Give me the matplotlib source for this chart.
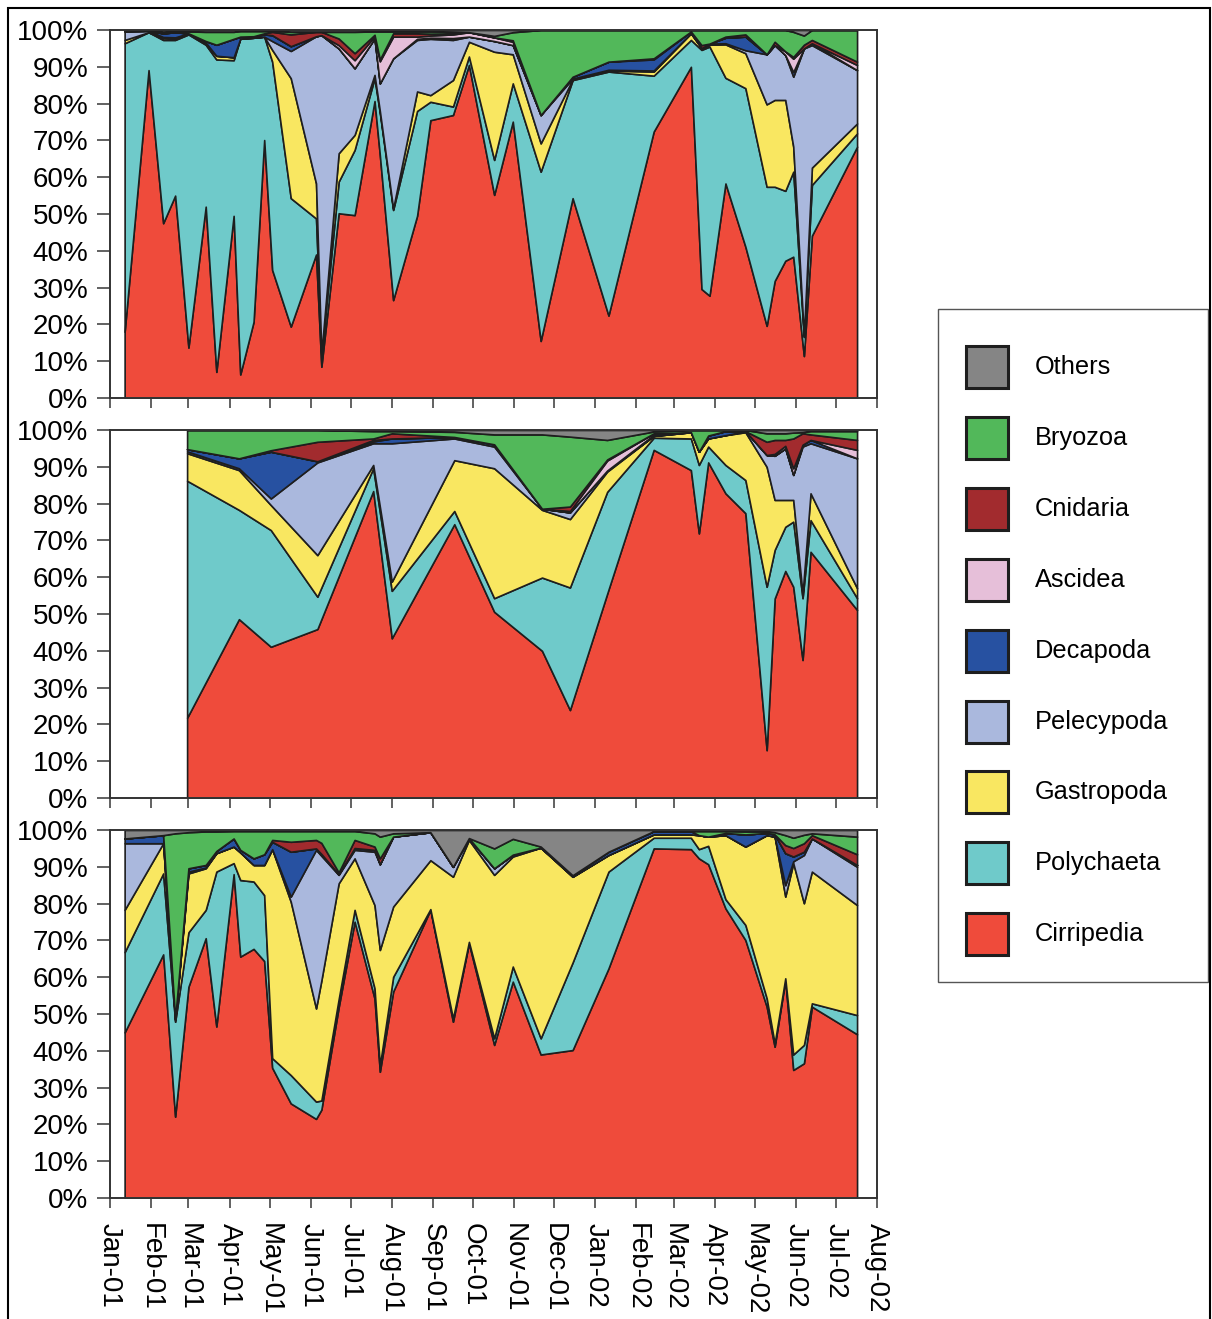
import matplotlib
matplotlib.use('Agg')
import matplotlib.pyplot as plt
import matplotlib.dates as mdates
from matplotlib.patches import Rectangle
import numpy as np
import pandas as pd

plt.rcParams['font.family'] = ['Liberation Sans', 'DejaVu Sans']

##########################       data (percent composition)       ##########################
taxa = ['Cirripedia', 'Polychaeta', 'Gastropoda', 'Pelecypoda', 'Decapoda',
        'Ascidea', 'Cnidaria', 'Bryozoa', 'Others']
colors = ['#ef4b3b', '#6fcaca', '#f9e761', '#aab8dd', '#2751a1',
          '#e6bfd9', '#a22b2e', '#52b85a', '#858585']

# panel 1
dates_a = ['2001-01-12', '2001-01-30', '2001-02-10', '2001-02-19', '2001-03-01', '2001-03-14',
           '2001-03-22', '2001-04-04', '2001-04-09', '2001-04-19', '2001-04-27', '2001-05-03',
           '2001-05-17', '2001-06-05', '2001-06-09', '2001-06-22', '2001-07-04', '2001-07-19',
           '2001-07-23', '2001-08-02', '2001-08-20', '2001-08-30', '2001-09-16', '2001-09-28',
           '2001-10-17', '2001-10-31', '2001-11-21', '2001-12-15', '2002-01-11', '2002-02-14',
           '2002-03-14', '2002-03-22', '2002-03-28', '2002-04-09', '2002-04-24', '2002-05-10',
           '2002-05-16', '2002-05-24', '2002-05-30', '2002-06-07', '2002-06-13', '2002-07-17']
cirr_a = [18.0, 89.1, 47.5, 55.0, 13.7, 52.0, 7.1, 49.5, 6.4, 20.7, 70.1, 34.8, 19.4, 39.0,
          8.5, 50.2, 49.7, 80.7, 66.0, 26.6, 49.5, 75.5, 76.9, 90.5, 55.2, 75.1, 15.5, 54.3,
          22.4, 72.4, 90.0, 29.6, 27.8, 58.3, 41.1, 19.6, 31.8, 37.3, 38.4, 11.4, 44.1, 68.3]
poly_a = [78.4, 10.3, 49.8, 42.3, 85.1, 44.0, 84.9, 42.3, 91.3, 77.2, 28.1, 56.6, 34.9, 9.8,
          3.2, 8.6, 17.7, 6.2, 11.5, 24.5, 28.5, 5.0, 2.3, 2.3, 9.5, 10.4, 46.0, 32.1,
          66.3, 15.2, 7.3, 65.0, 67.7, 28.7, 43.1, 37.8, 25.6, 19.0, 23.1, 5.2, 13.8, 3.6]
gast_a = [0.9, 0, 0.5, 0.4, 0.3, 0.4, 1.0, 0.8, 0, 0, 0, 3.2, 32.6, 9.5,
          0.3, 7.7, 4.1, 0.9, 0.5, 0.4, 5.3, 1.8, 7.2, 4.0, 29.4, 7.9, 7.7, 0.2,
          0.3, 1.1, 1.8, 0.5, 0.5, 9.1, 9.5, 22.4, 23.6, 24.7, 6.8, 0.3, 4.7, 2.7]
pele_a = [2.4, 0.4, 0.3, 0.3, 0, 0.2, 0, 0, 0, 0, 0, 2.4, 7.4, 40.0,
          86.6, 28.5, 18.1, 9.9, 7.5, 40.8, 14.0, 15.3, 10.9, 1.4, 2.9, 2.5, 7.7, 0.2,
          0.2, 0.3, 0, 0, 0.3, 0.3, 0.8, 13.6, 14.9, 12.2, 19.0, 78.1, 33.3, 14.5]
deca_a = [0, 0, 1.0, 1.4, 0, 0.4, 3.0, 5.0, 0.5, 0.4, 0.6, 1.6, 1.3, 0,
          0, 0, 0, 0, 0, 0, 0.3, 0.3, 0.5, 0, 0, 0, 0, 0.5,
          2.2, 3.0, 0.5, 0, 0, 1.5, 3.7, 0, 0, 0, 1.3, 0, 0.5, 0]
asci_a = [0, 0, 0, 0, 0, 0, 0, 0, 0, 0, 0, 0, 0, 0,
          0, 0.9, 2.2, 0.6, 6.0, 5.9, 0.6, 0.6, 1.0, 1.2, 1.0, 0.9, 0, 0,
          0, 0.3, 0, 0, 0, 0, 0, 0, 0, 1.0, 3.6, 0, 0, 1.4]
cnid_a = [0, 0, 0, 0, 0, 0, 0, 0, 0, 0, 0.3, 0.9, 3.2, 1.2,
          0.9, 1.8, 1.9, 0.4, 0.5, 0.9, 0.9, 0.5, 0.3, 0, 0, 0.4, 0, 0,
          0, 0, 0, 0.8, 0, 0.3, 0.6, 0, 0.9, 0, 0.5, 1.0, 0.9, 0.9]
bryo_a = [0, 0.2, 0.4, 0.3, 0.5, 2.5, 3.5, 1.9, 1.5, 1.4, 0.6, 0.3, 0.7, 0,
          0, 1.8, 5.8, 0.9, 7.6, 0.5, 0.5, 0.6, 0.4, 0, 0.4, 2.2, 23.1, 12.7,
          8.6, 7.7, 0.4, 4.1, 3.7, 1.8, 1.2, 6.6, 3.2, 5.8, 6.8, 2.5, 2.7, 8.6]
oth_a = [0.3, 0, 0.5, 0.3, 0.4, 0.5, 0.5, 0.5, 0.3, 0.3, 0.3, 0.2, 0.5, 0.5,
         0.5, 0.5, 0.5, 0.4, 0.4, 0.4, 0.4, 0.4, 0.5, 0.6, 1.6, 0.6, 0, 0,
         0, 0, 0, 0, 0, 0, 0, 0, 0, 0, 0.5, 1.5, 0, 0]

# panel 2
dates_b = ['2001-02-28', '2001-04-08', '2001-05-02', '2001-06-06', '2001-07-18', '2001-08-01',
           '2001-09-17', '2001-10-17', '2001-11-22', '2001-12-13', '2002-01-10', '2002-02-14',
           '2002-03-14', '2002-03-20', '2002-03-27', '2002-04-09', '2002-04-24', '2002-05-10',
           '2002-05-16', '2002-05-24', '2002-05-30', '2002-06-06', '2002-06-12', '2002-07-17']
cirr_b = [21.8, 48.6, 41.1, 45.9, 83.4, 43.4, 74.4, 50.6, 40.0, 23.9, 55.5, 94.6,
          89.1, 71.9, 91.2, 82.8, 77.4, 13.0, 54.2, 61.7, 57.4, 37.5, 66.9, 51.1]
poly_b = [64.4, 29.7, 31.7, 8.8, 6.2, 12.9, 3.6, 3.7, 19.9, 33.3, 27.7, 3.3,
          8.6, 18.6, 4.3, 7.7, 9.0, 44.4, 13.2, 12.0, 17.7, 16.8, 8.6, 3.2]
gast_b = [7.5, 10.8, 6.8, 11.3, 0.9, 2.5, 13.8, 35.3, 18.4, 18.6, 5.5, 0.5,
          1.7, 3.6, 2.2, 8.1, 13.0, 32.6, 13.6, 7.3, 5.9, 1.2, 7.3, 2.7]
pele_b = [0.5, 0.5, 1.8, 25.2, 5.9, 37.6, 5.9, 5.9, 0.3, 1.8, 0.3, 0,
          0, 0, 0, 0, 0.3, 3.2, 12.0, 14.0, 6.8, 40.0, 13.6, 35.3]
deca_b = [0.6, 2.7, 12.7, 0.3, 0.5, 1.3, 0.4, 0.6, 0, 0, 0, 0.3,
          0, 0, 0.8, 1.1, 0, 0, 0, 0, 0, 0.5, 0.9, 0]
asci_b = [0, 0, 0, 0, 0.4, 0, 0, 0, 0, 0.4, 2.7, 0.4,
          0, 0, 0, 0, 0, 0, 0.5, 0.7, 1.8, 0, 0, 2.3]
cnid_b = [0, 0, 0.4, 5.3, 0.4, 1.4, 0, 0, 0, 1.2, 0.3, 0,
          0, 0, 0, 0, 0, 3.6, 3.8, 1.6, 8.1, 3.1, 1.5, 2.7]
bryo_b = [5.2, 7.7, 5.5, 3.2, 2.0, 0.6, 1.4, 2.7, 20.2, 19.0, 5.3, 0.5,
          0.6, 5.9, 1.5, 0.3, 0.3, 2.3, 1.8, 1.8, 1.6, 0.3, 0.9, 2.4]
oth_b = [0, 0, 0, 0, 0.3, 0.3, 0.5, 1.2, 1.2, 1.8, 2.7, 0.4,
         0, 0, 0, 0, 0, 0.9, 0.9, 0.9, 0.7, 0.6, 0.3, 0.3]

# panel 3
dates_c = ['2001-01-12', '2001-02-10', '2001-02-19', '2001-03-01', '2001-03-14', '2001-03-22',
           '2001-04-04', '2001-04-09', '2001-04-19', '2001-04-27', '2001-05-03', '2001-05-17',
           '2001-06-05', '2001-06-09', '2001-06-22', '2001-07-04', '2001-07-19', '2001-07-23',
           '2001-08-02', '2001-08-30', '2001-09-16', '2001-09-28', '2001-10-17', '2001-10-31',
           '2001-11-21', '2001-12-15', '2002-01-11', '2002-02-14', '2002-03-14', '2002-03-20',
           '2002-03-27', '2002-04-09', '2002-04-24', '2002-05-10', '2002-05-16', '2002-05-24',
           '2002-05-30', '2002-06-07', '2002-06-13', '2002-07-17']
cirr_c = [45.0, 66.2, 22.1, 57.4, 70.6, 46.6, 88.0, 65.6, 67.7, 64.4,
          35.4, 25.7, 21.5, 24.0, 51.8, 75.1, 54.2, 34.3, 56.1, 78.3,
          47.9, 69.2, 41.6, 58.8, 39.0, 40.2, 62.4, 95.0, 94.8, 92.3,
          90.7, 78.7, 70.1, 52.0, 41.1, 59.2, 34.8, 36.6, 52.0, 44.5]
poly_c = [21.8, 22.0, 25.8, 14.8, 7.7, 42.1, 3.0, 20.8, 18.3, 17.9,
          2.6, 7.7, 4.7, 2.5, 2.2, 3.2, 2.8, 1.7, 4.0, 0.2,
          0.9, 0.4, 1.8, 4.1, 4.4, 23.8, 26.3, 2.9, 3.1, 2.5,
          5.0, 2.5, 4.1, 2.3, 0.9, 0.5, 4.2, 5.0, 0.9, 5.2]
gast_c = [11.5, 8.2, 0.5, 16.0, 11.3, 5.0, 4.5, 7.5, 4.5, 8.2,
          56.8, 47.1, 25.3, 32.6, 31.5, 14.0, 22.6, 31.4, 19.1, 13.3,
          38.5, 27.7, 44.4, 29.9, 51.8, 23.3, 4.5, 0.9, 0.9, 3.8,
          2.5, 17.4, 21.3, 44.3, 56.2, 22.2, 52.0, 38.5, 35.8, 29.9]
pele_c = [18.1, 0, 0.3, 0.5, 0.2, 0, 0, 0, 0, 0,
          0, 1.4, 43.1, 33.9, 2.3, 2.3, 14.5, 23.3, 19.0, 7.6,
          2.7, 0.5, 1.8, 0.5, 0, 0, 0, 0, 0, 0,
          0, 0, 0, 0, 0, 3.1, 0.5, 13.1, 9.0, 10.4]
deca_c = [1.3, 2.2, 0, 0.9, 0.7, 0.6, 2.2, 0.7, 1.8, 2.9,
          2.0, 12.2, 0.4, 0.5, 0.2, 0.5, 0.5, 0, 0, 0,
          0, 0, 0, 0, 0, 0.4, 0.9, 0.9, 0.9, 0,
          0, 0.6, 3.3, 0.6, 0.6, 8.7, 1.3, 0.9, 0, 0.5]
asci_c = [0] * 40
cnid_c = [0, 0, 0, 0, 0, 0, 0, 0, 0, 0,
          0.5, 2.7, 2.3, 3.0, 0.5, 2.2, 0.9, 1.6, 0, 0,
          0, 0, 0, 0, 0, 0, 0, 0, 0, 0,
          0, 0, 0, 0, 0, 2.2, 2.3, 2.3, 0.9, 2.9]
bryo_c = [0, 0, 50.4, 9.8, 9.1, 5.3, 2.0, 5.1, 7.4, 6.3,
          2.4, 2.9, 2.4, 3.2, 11.2, 2.4, 3.6, 5.9, 0.9, 0,
          0, 0, 5.4, 4.3, 0.3, 0, 0, 0, 0, 1.1,
          1.5, 0.5, 0.8, 0.4, 0.6, 2.7, 2.8, 2.3, 0.5, 4.8]
oth_c = [2.3, 1.4, 0.9, 0.6, 0.4, 0.4, 0.3, 0.3, 0.3, 0.3,
         0.3, 0.3, 0.3, 0.3, 0.3, 0.3, 0.9, 1.8, 0.9, 0.6,
         10.0, 2.2, 5.0, 2.4, 4.5, 12.3, 5.9, 0.3, 0.3, 0.3,
         0.3, 0.3, 0.4, 0.4, 0.6, 1.4, 2.1, 1.3, 0.9, 1.8]

panels = [
    (dates_a, [cirr_a, poly_a, gast_a, pele_a, deca_a, asci_a, cnid_a, bryo_a, oth_a]),
    (dates_b, [cirr_b, poly_b, gast_b, pele_b, deca_b, asci_b, cnid_b, bryo_b, oth_b]),
    (dates_c, [cirr_c, poly_c, gast_c, pele_c, deca_c, asci_c, cnid_c, bryo_c, oth_c]),
]

##########################       figure       ##########################
W, H = 1212, 1319
fig = plt.figure(figsize=(W / 100, H / 100), dpi=100)


def box(x0, y0, x1, y1):
    """pixel box (top-left origin) -> figure fraction rect"""
    return [x0 / W, 1 - y1 / H, (x1 - x0) / W, (y1 - y0) / H]


rows = [(30, 398), (430, 798), (830, 1198)]
for i, ((dates, series), (top, bottom)) in enumerate(zip(panels, rows)):
    ax = fig.add_axes(box(110, top, 877, bottom))
    x = pd.to_datetime(dates)
    vals = np.array(series, dtype=float)
    vals = vals / vals.sum(axis=0) * 100  # each sample sums to 100 %
    ax.stackplot(x, *vals, colors=colors, edgecolor='#1e1e1e', linewidth=1.2)

    ax.set_xlim(pd.Timestamp('2001-01-01'), pd.Timestamp('2002-08-01'))
    ax.set_ylim(0, 100)
    ax.set_yticks(range(0, 101, 10))
    ax.set_yticklabels([f'{v}%' for v in range(0, 101, 10)])
    ax.xaxis.set_major_locator(mdates.MonthLocator())
    ax.xaxis.set_major_formatter(mdates.DateFormatter('%b-%y'))
    ax.tick_params(direction='out', width=1.3, color='#555555', labelsize=20)
    ax.tick_params(axis='x', length=7, pad=11)
    ax.tick_params(axis='y', length=9.4, pad=6)
    for s in ax.spines.values():
        s.set_linewidth(1.4)
        s.set_color('#333333')
    if i < 2:
        ax.tick_params(labelbottom=False)
    else:
        plt.setp(ax.get_xticklabels(), rotation=-90, ha='center', va='top')

# legend box drawn by hand so it sits exactly where the original one does
fig.add_artist(Rectangle((938 / W, 1 - 982 / H), 270 / W, 673 / H, transform=fig.transFigure,
                         fill=False, ec='#555555', lw=1.0))
legend_order = list(range(len(taxa)))[::-1]
for k, j in enumerate(legend_order):
    yc = 367 + k * 70.9
    fig.add_artist(Rectangle((966 / W, 1 - (yc + 21) / H), 42 / W, 42 / H,
                             transform=fig.transFigure, fc=colors[j], ec='#1e1e1e', lw=2.2))
    fig.text(1035 / W, 1 - yc / H, taxa[j], fontsize=18.3, va='center', ha='left')

# outer frame
fig.add_artist(Rectangle((8 / W, -0.01), 1202 / W, (H - 8) / H + 0.01,
                         transform=fig.transFigure, fill=False, ec='black', lw=1.5))

fig.savefig('out.png', dpi=100)
